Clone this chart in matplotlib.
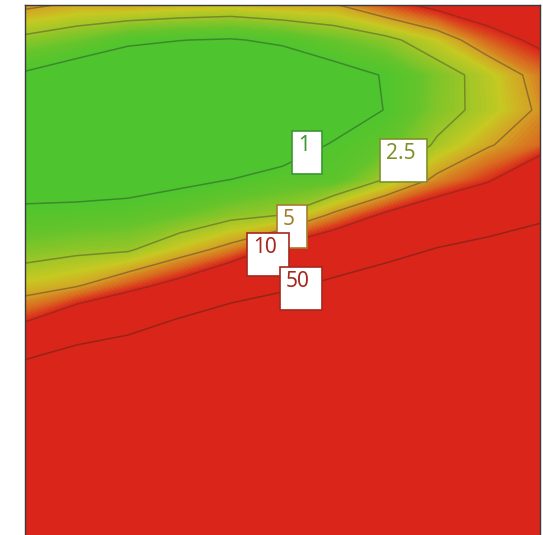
import numpy as np
import matplotlib
matplotlib.use("Agg")
import matplotlib.pyplot as plt
from matplotlib.colors import LinearSegmentedColormap, Normalize
from matplotlib.patches import Rectangle

# Grid coordinates (column index across, row index downwards)
x_values = np.arange(11)
y_values = np.arange(17)

# log10 of the surface value at each grid node, one list per row (top to bottom)
log_z = np.array([
    [0.75, 0.66, 0.68, 0.63, 0.60, 0.66, 0.68, 0.90, 1.08, 1.20, 1.30],
    [0.333, 0.226, 0.054, 0.005, -0.02, 0.05, 0.20, 0.33, 0.55, 0.87, 1.07],
    [-0.04, -0.20, -0.25, -0.25, -0.25, -0.25, -0.13, 0.02, 0.28, 0.50, 0.80],
    [-0.20, -0.30, -0.35, -0.35, -0.35, -0.35, -0.20, 0.01, 0.30, 0.48, 0.74],
    [-0.25, -0.30, -0.35, -0.35, -0.30, -0.17, 0.03, 0.16, 0.43, 0.68, 0.85],
    [-0.15, -0.15, -0.13, -0.066, 0.005, 0.11, 0.12, 0.42, 0.76, 0.97, 1.35],
    [0.07, 0.089, 0.12, 0.20, 0.33, 0.40, 0.75, 1.05, 1.26, 1.45, 1.62],
    [0.29, 0.346, 0.375, 0.585, 0.79, 1.12, 1.34, 1.52, 1.73, 1.85, 1.95],
    [0.578, 0.67, 0.89, 1.10, 1.40, 1.60, 1.80, 2.00, 2.10, 2.20, 2.30],
    [0.965, 1.27, 1.45, 1.735, 1.98, 2.10, 2.20, 2.40, 2.50, 2.50, 2.60],
    [1.62, 1.87, 2.03, 2.20, 2.40, 2.50, 2.60, 2.70, 2.80, 2.80, 2.90],
    [2.2, 2.3, 2.4, 2.6, 2.7, 2.8, 2.9, 3.0, 3.1, 3.1, 3.2],
    [2.6, 2.7, 2.8, 2.9, 3.0, 3.1, 3.2, 3.3, 3.3, 3.3, 3.4],
    [3.0, 3.0, 3.1, 3.2, 3.3, 3.4, 3.5, 3.5, 3.5, 3.5, 3.6],
    [3.3, 3.3, 3.4, 3.5, 3.6, 3.6, 3.7, 3.7, 3.7, 3.7, 3.8],
    [3.6, 3.6, 3.7, 3.8, 3.9, 3.9, 4.0, 4.0, 4.0, 4.0, 4.0],
    [3.9, 3.9, 4.0, 4.1, 4.1, 4.2, 4.2, 4.2, 4.2, 4.2, 4.2],
])

# Contour levels and their labels
levels = [1, 2.5, 5, 10, 50]
level_labels = ["1", "2.5", "5", "10", "50"]

# Styling
line_colors = ["#3b7f2b", "#727f2a", "#8a672b", "#9a2a1c", "#8c2318"]
label_colors = ["#3c9632", "#7d9128", "#a57d2d", "#a5281e", "#a5281e"]
# label box top-left corner (data units) and box width (data units)
label_boxes = [
    (5.18, 3.60, 0.59),
    (6.89, 3.83, 0.92),
    (4.89, 5.71, 0.59),
    (4.31, 6.51, 0.82),
    (4.95, 7.49, 0.82),
]
box_height = 1.23

cmap = LinearSegmentedColormap.from_list(
    "green_yellow_red",
    [(0.0, "#4ec52e"), (0.2, "#66c42b"), (0.4, "#9dc627"),
     (0.55, "#c6c922"), (0.7, "#d4a324"), (0.85, "#d96a20"),
     (1.0, "#da251a")],
)
cmap.set_under("#4ec52e")
cmap.set_over("#da251a")

W, H = 543, 535
fig = plt.figure(figsize=(W / 100, H / 100), dpi=100)
ax_h = 560 / H
ax = fig.add_axes([25 / W, 1 - 5 / H - ax_h, 515 / W, ax_h])

fill_levels = np.linspace(0, 1, 51)
ax.contourf(x_values, y_values, log_z, levels=fill_levels, cmap=cmap,
            norm=Normalize(vmin=0, vmax=1), extend="both", antialiased=False)
ax.contour(x_values, y_values, log_z, levels=np.log10(levels),
           colors=line_colors, linewidths=1.1, alpha=0.85)

ax.set_xlim(x_values[0], x_values[-1])
ax.set_ylim(y_values[-1], y_values[0])
ax.set_xticks([])
ax.set_yticks([])
for side in ("left", "right", "top", "bottom"):
    ax.spines[side].set_color("#3a3a3a")
    ax.spines[side].set_linewidth(1.0)

pad_x = 6 / 51.5
pad_y = 4 / 35
for i, (text, color, (bx, by, bw)) in enumerate(zip(level_labels, label_colors, label_boxes)):
    ax.add_patch(Rectangle((bx, by), bw, box_height, facecolor="white",
                           edgecolor=color, linewidth=1.2, zorder=5 + i))
    ax.text(bx + pad_x, by + pad_y, text, color=color, fontsize=15,
            family="Noto Sans", ha="left", va="top", zorder=5 + i)

fig.savefig("out.png", dpi=100)
